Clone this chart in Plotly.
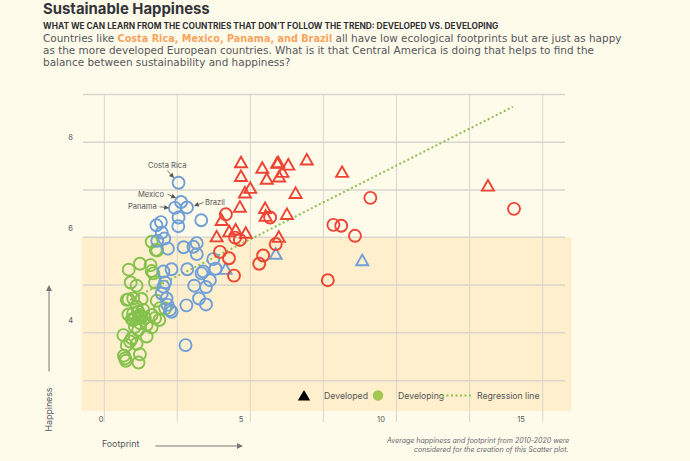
import plotly.graph_objects as go

W, H = 690, 461
tri_red_x = [5.0,5.0,5.14,4.96,5.76,5.92,6.29,6.33,6.69,6.48,6.36,7.35,8.61,6.95,5.86,5.88,6.64,6.35,4.58,4.81,5.17,5.33,4.31,4.13,13.82]
tri_red_y = [7.46,7.16,6.80,6.49,7.34,7.10,7.45,7.46,7.41,7.25,7.15,7.52,7.25,6.79,6.46,6.29,6.33,5.83,5.95,5.99,5.92,6.90,6.20,5.84,6.95]
tri_blue_x = [6.24,9.33,4.45]
tri_blue_y = [5.46,5.32,5.13]
circ_red_x = [9.62,8.30,8.58,9.07,6.24,5.79,5.65,4.57,4.75,8.10,6.04,4.46,4.79,4.96,4.25,14.75]
circ_red_y = [6.67,6.08,6.06,5.84,5.66,5.41,5.23,5.35,4.97,4.87,6.24,6.31,5.80,5.75,5.49,6.43]
circ_blue_x = [2.77,2.86,2.64,3.07,2.77,2.76,3.58,2.14,1.98,2.17,2.26,2.01,2.39,2.95,3.30,3.42,3.42,4.01,4.09,2.52,3.08,2.23,3.65,3.59,3.89,2.29,2.23,3.33,3.75,2.17,3.50,2.34,2.38,3.75,3.05,2.46,2.52,3.02]
circ_blue_y = [7.00,6.58,6.45,6.46,6.24,6.05,6.18,6.14,6.07,5.91,5.78,5.73,5.56,5.59,5.60,5.68,5.44,5.33,5.12,5.11,5.11,5.06,5.06,5.02,4.87,4.82,4.73,4.75,4.72,4.58,4.47,4.47,4.33,4.34,4.32,4.22,4.18,3.45]
circ_green_x = [1.81,1.96,2.01,1.39,0.99,1.77,1.81,1.87,1.06,1.27,1.93,0.98,0.92,1.45,1.15,1.99,0.98,1.27,1.15,1.21,1.33,1.45,1.57,1.81,2.11,2.08,1.39,1.81,1.33,0.80,1.10,1.63,1.04,0.92,1.27,1.39,0.82,0.86,0.89,1.34,1.21,1.10,1.63,1.33,1.51,1.39,1.15,1.93,2.29]
circ_green_y = [5.71,5.53,5.52,5.23,5.10,5.20,5.07,5.02,4.82,4.75,4.82,4.45,4.44,4.46,4.47,4.42,4.12,4.29,4.15,4.04,4.04,4.07,4.04,4.11,4.26,4.00,3.93,3.84,3.78,3.67,3.60,3.64,3.53,3.45,3.48,3.25,3.22,3.16,3.11,3.07,3.85,4.02,3.89,4.18,4.22,4.11,4.00,4.04,4.25]
reg_x = [1.04,14.71]
reg_y = [4.44,8.66]
x_ticks = [0,5,10,15]
y_ticks = [4,6,8]

RED, BLUE, GREEN = "#ee4433", "#6f9fd6", "#84c14d"
BG, BAND, GRID = "#fffbeb", "#ffefcc", "#d9d6cd"
FONT = "Inter"
BODY = "DejaVu Sans"

def px(v): return v / W
def py(v): return 1 - v / H

fig = go.Figure()
fig.add_trace(go.Scatter(x=reg_x, y=reg_y, mode="lines", showlegend=False, line=dict(color="#8dbf4a", width=2, dash="2px,2.5px")))
def pts(x, y, sym, col, size):
    fig.add_trace(go.Scatter(x=x, y=y, mode="markers", showlegend=False,
        marker=dict(symbol=sym, size=size, color="rgba(0,0,0,0)", line=dict(color=col, width=1.9))))
pts(circ_green_x, circ_green_y, "circle", GREEN, 12)
pts(circ_blue_x, circ_blue_y, "circle", BLUE, 12)
pts(tri_blue_x, tri_blue_y, "triangle-up", BLUE, 13)
pts(tri_red_x, tri_red_y, "triangle-up", RED, 13)
pts(circ_red_x, circ_red_y, "circle", RED, 12)
fig.add_trace(go.Scatter(x=[None], y=[None], mode="markers", name="Developed", legend="legend", marker=dict(symbol="triangle-up", size=13, color="black")))
fig.add_trace(go.Scatter(x=[None], y=[None], mode="markers", name="Developing", legend="legend2", marker=dict(symbol="circle", size=10.5, color="#a3c750")))
fig.add_trace(go.Scatter(x=[None], y=[None], mode="lines", name="Regression line", legend="legend3", line=dict(color="#8dbf4a", width=2, dash="2px,2.5px")))

shapes = [dict(type="rect", xref="paper", yref="paper", x0=px(81.5), x1=px(571.5), y0=py(411), y1=py(237.3), fillcolor=BAND, line_width=0, layer="below")]
for xv in [104.3,177.3,250.3,323.4,396.5,469.6,542.7]:
    shapes.append(dict(type="line", xref="paper", yref="paper", x0=px(xv), x1=px(xv), y0=py(94.5), y1=py(422), line=dict(color=GRID, width=1), layer="below"))
for yv in [94.5,142.3,190,237.3,285,332.8,380.7]:
    shapes.append(dict(type="line", xref="paper", yref="paper", x0=px(83), x1=px(565), y0=py(yv), y1=py(yv), line=dict(color=GRID, width=1.4), layer="below"))

def text(x, y, s, size, col="#55565a", anchor="left", family=FONT, **kw):
    return dict(xref="paper", yref="paper", x=px(x), y=py(y), text=s, showarrow=False, xanchor=anchor, yanchor="middle",
                font=dict(family=family, size=size, color=col), **kw)
def arrow(x0, y0, x1, y1, col="#555555", w=0.8, hs=0.6):
    return dict(xref="paper", yref="paper", x=px(x1), y=py(y1), axref="pixel", ayref="pixel", ax=x0-x1, ay=y0-y1, text="",
                showarrow=True, arrowhead=2, arrowsize=hs*2, arrowwidth=w, arrowcolor=col)

ann = [
    text(41, 9.5, "<b>Sustainable Happiness</b>", 14.9, "#33343a"),
    text(41, 26, "<b>WHAT WE CAN LEARN FROM THE COUNTRIES THAT DON’T FOLLOW THE TREND: DEVELOPED VS. DEVELOPING</b>", 8.35, "#2e2f33"),
    text(41, 37.5, "Countries like <b><span style='color:#f9a35e;font-size:9.7px'>Costa Rica, Mexico, Panama, and Brazil</span></b> all have low ecological footprints but are just as happy", 10.45, family=BODY),
    text(41, 49.8, "as the more developed European countries. What is it that Central America is doing that helps to find the", 10.45, family=BODY),
    text(41, 62.1, "balance between sustainability and happiness?", 10.45, family=BODY),
    text(167, 165, "Costa Rica", 7.6, anchor="center"),
    text(151, 194, "Mexico", 7.6, anchor="center"),
    text(142, 206.5, "Panama", 7.6, anchor="center"),
    text(215, 202, "Brazil", 7.6, anchor="center"),
    arrow(166, 169, 174, 178), arrow(166, 193.5, 176, 198), arrow(158, 206.5, 169, 208), arrow(205, 202, 194, 206),
    text(47.5, 410, "Happiness", 8.8, anchor="center", textangle=-90),
    arrow(49, 373, 49, 285, "#777777", 1),
    text(120, 443.5, "Footprint", 8.8, anchor="center"),
    arrow(154, 446, 243, 446, "#777777", 1),
    text(571, 440, "<i>Average happiness and footprint from 2010-2020 were</i>", 7.0, "#66676b", "right"),
    text(571, 449.5, "<i>considered for the creation of this Scatter plot.</i>", 7.0, "#66676b", "right"),
]

def legend_at(x):
    return dict(orientation="h", xref="paper", yref="paper", x=px(x), y=py(395.5), xanchor="left", yanchor="middle",
                bgcolor="rgba(0,0,0,0)", itemwidth=30, font=dict(size=8.7, family=FONT, color="#55565a"))

fig.update_layout(
    width=W, height=H, margin=dict(l=0, r=0, t=0, b=0), autosize=False,
    paper_bgcolor=BG, plot_bgcolor="rgba(0,0,0,0)", shapes=shapes, annotations=ann,
    font=dict(family=FONT, size=8, color="#55565a"),
    legend=legend_at(284), legend2=legend_at(358), legend3=legend_at(437),
    xaxis=dict(domain=[px(81.5), px(571.5)], range=[(81.5-101)/28, (571.5-101)/28], tickvals=x_ticks, showgrid=False, zeroline=False, showline=False,
               ticks="outside", ticklen=1, tickcolor="rgba(0,0,0,0)", tickfont=dict(size=7.5, family=FONT, color="#55565a")),
    yaxis=dict(domain=[py(411), py(94.5)], range=[4+(320-411)/45.75, 4+(320-94.5)/45.75], tickvals=y_ticks, showgrid=False, zeroline=False, showline=False,
               ticks="outside", ticklen=6, tickcolor="rgba(0,0,0,0)", tickfont=dict(size=7.5, family=FONT, color="#55565a")),
)
POST = """
document.body.style.margin='0';document.body.style.background='#fffbeb';document.documentElement.style.overflow='hidden';
var tri=/^M-[\\d.]+,[\\d.]+H[\\d.]+L0,-[\\d.]+Z$/;
document.querySelectorAll('path.point').forEach(function(p){
  if(!tri.test(p.getAttribute('d')))return;
  p.setAttribute('d','M-6,5.6H6L0,-5Z');p.style.strokeMiterlimit='4';
});
document.querySelectorAll('path.scatterpts').forEach(function(p){
  if(tri.test(p.getAttribute('d')))p.setAttribute('d','M-6.2,5H6.2L0,-5.5Z');
});
"""
fig.write_html("out.html", config=dict(displayModeBar=False), post_script=POST)
